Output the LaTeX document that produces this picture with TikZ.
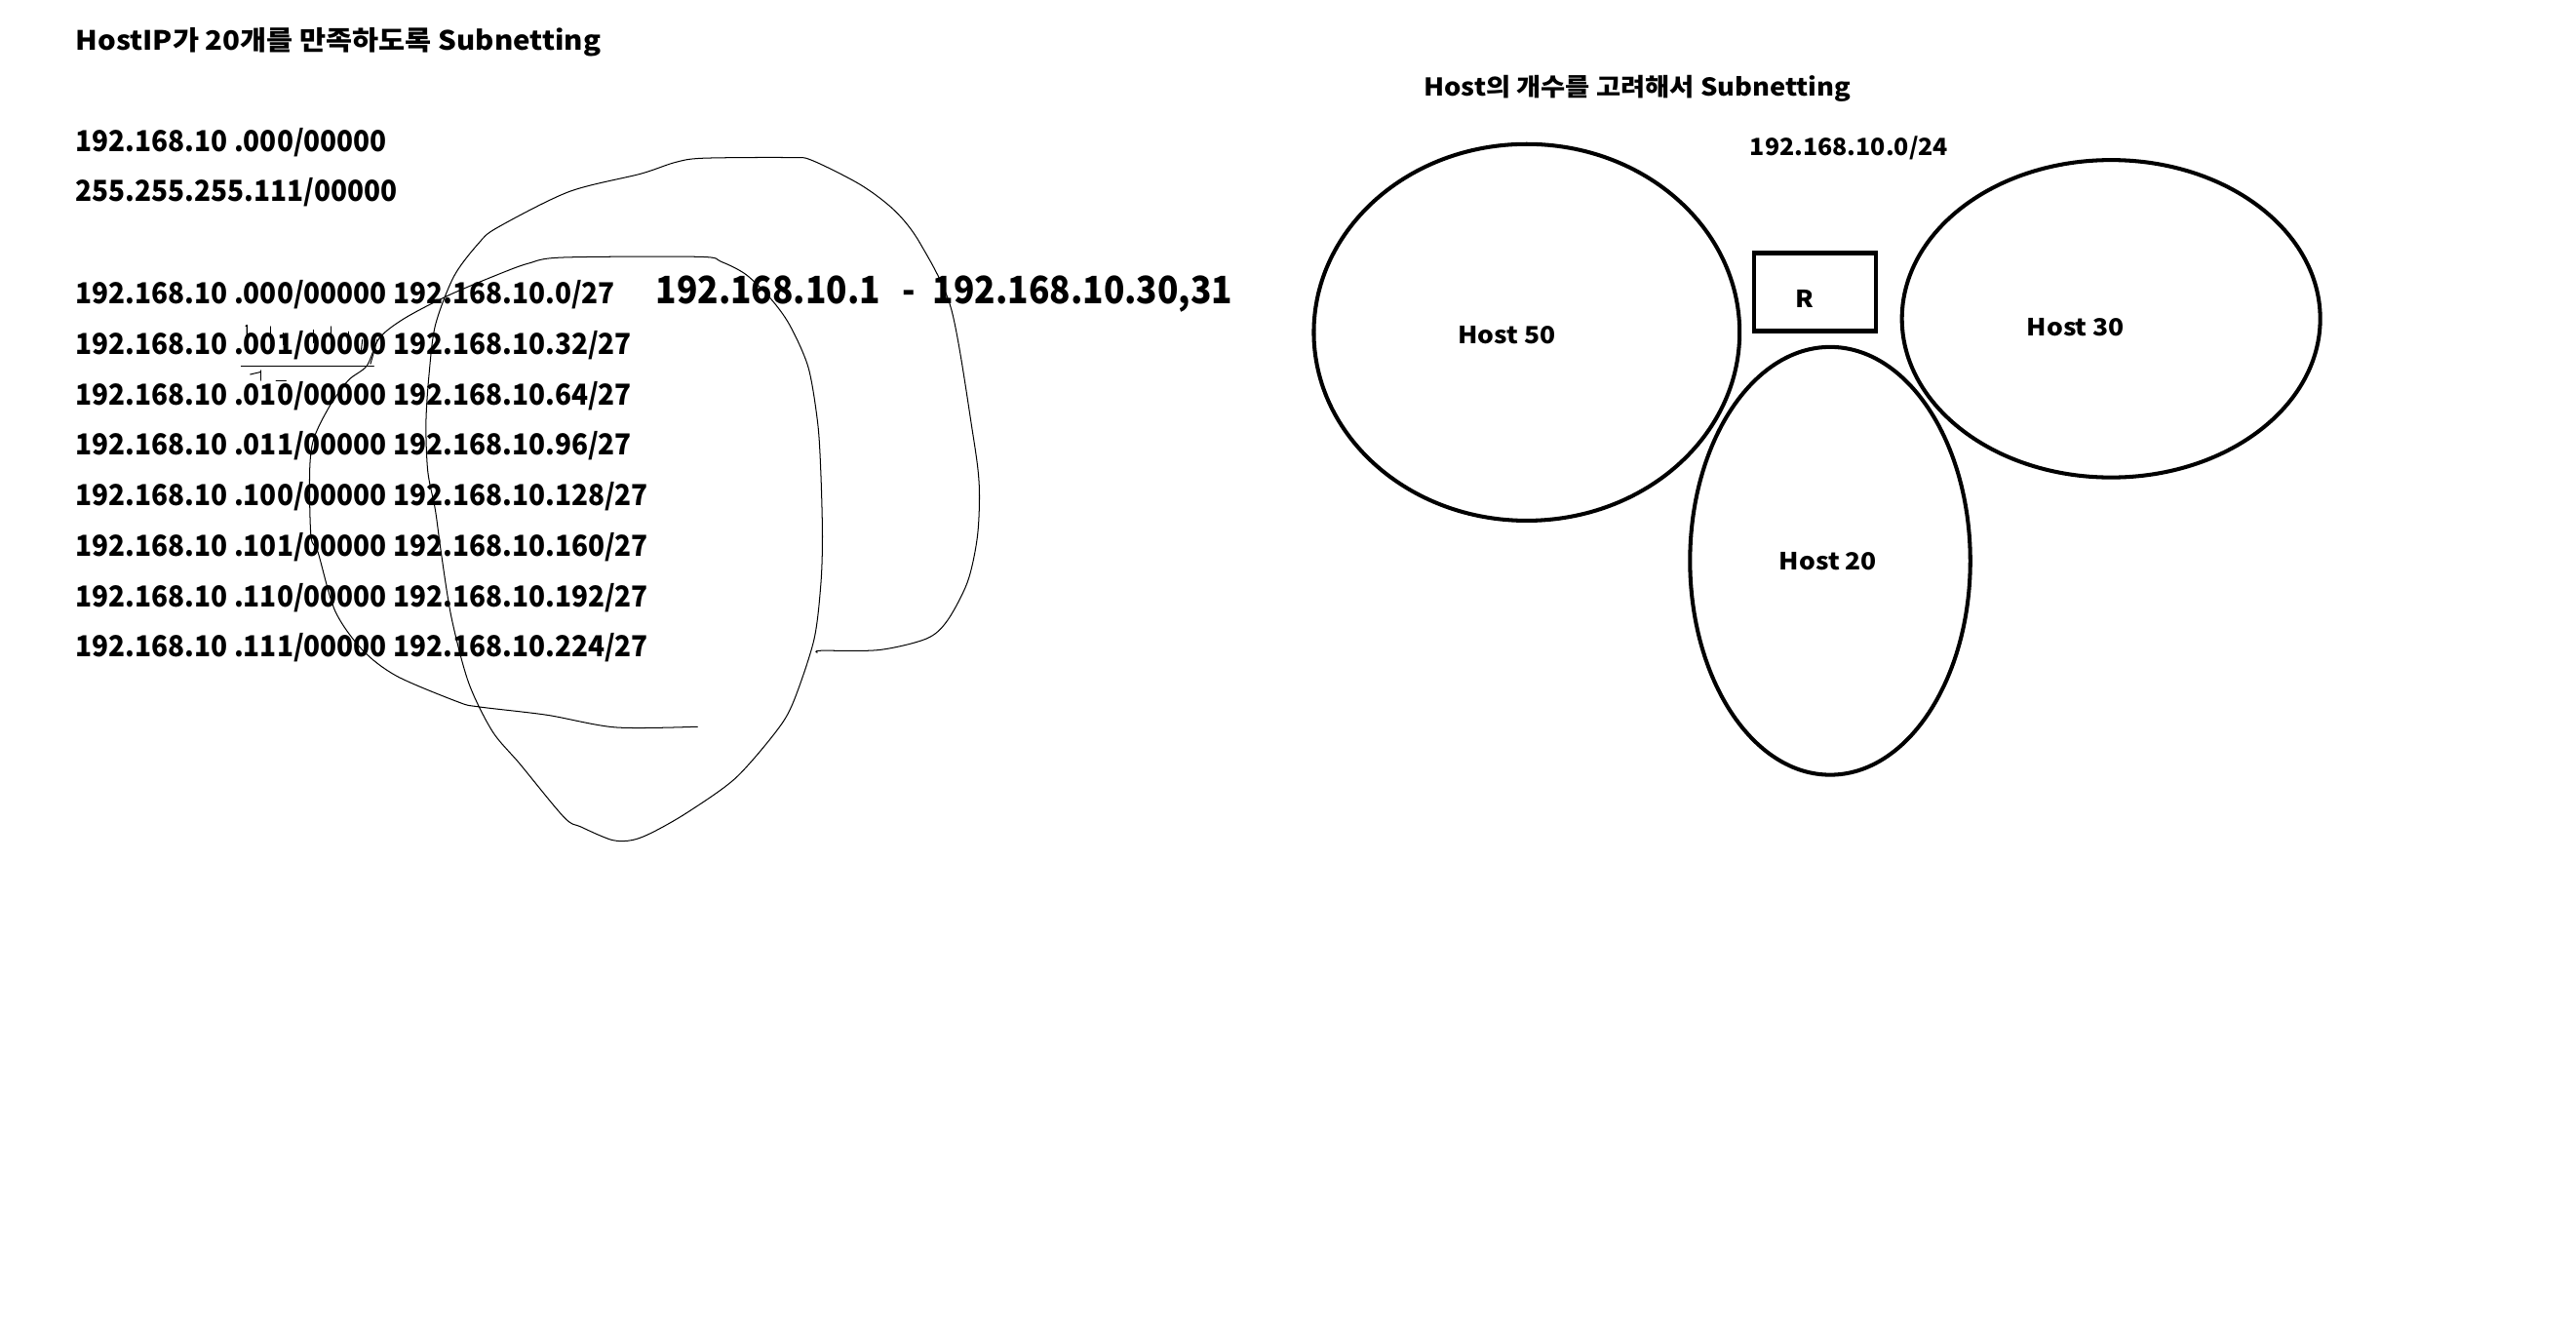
\documentclass[tikz,border=0pt]{standalone}
\usepackage{fontspec}
\setmainfont{Noto Sans CJK KR}
\newfontfamily\rowf{Noto Sans CJK KR}[FakeStretch=0.943]
\newfontfamily\bigf{Noto Sans CJK KR}[FakeStretch=0.91]
\newfontfamily\ttlf{Noto Sans CJK KR}[FakeStretch=1.078]
\newfontfamily\ttlrf{Noto Sans CJK KR}[FakeStretch=1.088]
\newfontfamily\hostf{Noto Sans CJK KR}[FakeStretch=1.09]
\newfontfamily\netf{Noto Sans CJK KR}[FakeStretch=1.03]
\usetikzlibrary{shapes.geometric}
\begin{document}
\begin{tikzpicture}[x=1pt,y=-1pt,
  txt/.style={inner sep=0pt, anchor=base west, font=\rowf\bfseries\fontsize{17.6}{20}\selectfont},
  ttl/.style={inner sep=0pt, anchor=base west, font=\ttlf\bfseries\fontsize{16.2}{19}\selectfont},
  ttlr/.style={inner sep=0pt, anchor=base west, font=\ttlrf\bfseries\fontsize{14.9}{18}\selectfont},
  big/.style={inner sep=0pt, anchor=base west, font=\bigf\bfseries\fontsize{23}{26}\selectfont},
  netstyle/.style={inner sep=0pt, anchor=base west, font=\netf\bfseries\fontsize{14.4}{17}\selectfont},
  sml/.style={inner sep=0pt, anchor=base west, font=\hostf\bfseries\fontsize{14.4}{17}\selectfont},
  hostell/.style={draw, ellipse, inner sep=0pt, line width=2.4pt},
  scrib/.style={line width=0.6pt, line join=round, line cap=round}]
\fill[white] (0,0) rectangle (1568,810);
\useasboundingbox (0,0) rectangle (1568,810);

% left texts
\node[ttl] (title) at (46,30.7) {HostIP가 20개를 만족하도록 Subnetting};
\node[txt] (a0) at (46,92) {192.168.10 .000/00000};
\node[txt] (m0) at (46,122.6) {255.255.255.111/00000};
\node[txt] (r1) at (46,185) {192.168.10 .000/00000 192.168.10.0/27};
\node[txt] (r2) at (46,215.6) {192.168.10 .001/00000 192.168.10.32/27};
\node[txt] (r3) at (46,246.3) {192.168.10 .010/00000 192.168.10.64/27};
\node[txt] (r4) at (46,277) {192.168.10 .011/00000 192.168.10.96/27};
\node[txt] (r5) at (46,307.8) {192.168.10 .100/00000 192.168.10.128/27};
\node[txt] (r6) at (46,338.5) {192.168.10 .101/00000 192.168.10.160/27};
\node[txt] (r7) at (46,369.2) {192.168.10 .110/00000 192.168.10.192/27};
\node[txt] (r8) at (46,400) {192.168.10 .111/00000 192.168.10.224/27};
\node[big] (range) at (399,185) {192.168.10.1\hspace{13.5pt}-\hspace{10.5pt}192.168.10.30,31};

% freehand scribble
\draw[scrib] plot[smooth, tension=0.5] coordinates {
 (497.5,397.2) (499.6,396) (535,395.6) (564,388.7) (576.6,377.8) (589,354) (595,326)
 (596,295) (592,263) (579,188) (560,148) (545,128.6) (524.2,112.7) (494,97.5)
 (480.7,95.9) (427.7,96.3) (410.7,98.9) (389.9,105.8) (346.3,116.7) (302.8,138.5)
 (291.4,148) (276.3,168.2) (265,197.9) (261.2,227.5) (259.3,257.2) (260.4,286.9)
 (265,310.6) (268.5,336.3) (274.8,375.9) (285.2,415.4) (299.7,445.1) (316.4,464.9)
 (343.4,497.5) (353.9,503.4) (372.6,511.3) (385,511.3) (397.6,506.4) (418.4,494.5)
 (447.5,473.8) (472.5,445.1) (482.9,427.3) (495.4,389.7) (499.6,356) (500.6,326.4)
 (499.6,286.9) (497.7,257.2) (492,223.6) (480.7,197.9) (469.3,182) (454.2,167.2)
 (439,159.3) (425.8,156.3) (342.5,156.7) (321.7,160.3) (302.8,167.2) (272.5,180)
 (246,193.9) (230.9,205.8) (223.3,222.6) (212,231.5) (200.6,247.3) (191,267)
 (188.5,286.9) (189.3,326.4) (193.6,336.3) (204,371.9) (220.6,395.6) (241.5,411.5)
 (279,427.3) (291.4,430.2) (333,435.2) (374.7,442.7) (424.6,442.3)};

% small marks around .001/00000
\draw[scrib] (146.8,223.1) -- (227.5,223.1);
\draw[scrib] (149.5,198.5) -- (150.3,197.8) -- (150.3,204.7);
\draw[scrib] (164.6,198.8) -- (164.6,204.7);
\draw[scrib] (172.5,202.8) -- (172.5,209.7);
\draw[scrib] (190.9,200.8) -- (190.9,208.7);
\draw[scrib] (201.6,198.8) -- (201.6,209.7);
\draw[scrib] (212.1,201.8) -- (212.1,211.7);
\draw[scrib] (220.6,206.8) -- (219.7,214.7);
\draw[scrib] (229.6,206.8) -- (228,212.7);
\draw[scrib] (227.5,214.6) -- (225.5,221.5);
\draw[scrib] (152.3,227.9) -- (158.3,226.5);
\draw[scrib] (158.9,225.5) -- (158.9,231.5);
\draw[scrib] (168.1,231.5) -- (174.1,231.5);

% right side
\node[ttlr] (title2) at (866.5,58.4) {Host의 개수를 고려해서 Subnetting};
\node[netstyle] (net) at (1065,94.6) {192.168.10.0/24};

\node[hostell, minimum width=259.2pt, minimum height=229.2pt] (h50) at (929.3,202.3) {};
\node[hostell, minimum width=254.6pt, minimum height=193.2pt] (h30) at (1285,194) {};
\node[hostell, minimum width=170.6pt, minimum height=260.4pt] (h20) at (1114,341.4) {};
\node[draw, line width=2.4pt, inner sep=0pt, minimum width=74.2pt, minimum height=47.5pt] (rtr) at (1105,177.75) {};

\node[sml] (l50) at (887.2,209.3) {Host 50};
\node[sml] (l30) at (1233.6,204.7) {Host 30};
\node[sml] (l20) at (1082.9,346.6) {Host 20};
\node[sml] (lr) at (1092.6,187.3) {R};
\end{tikzpicture}
\end{document}
